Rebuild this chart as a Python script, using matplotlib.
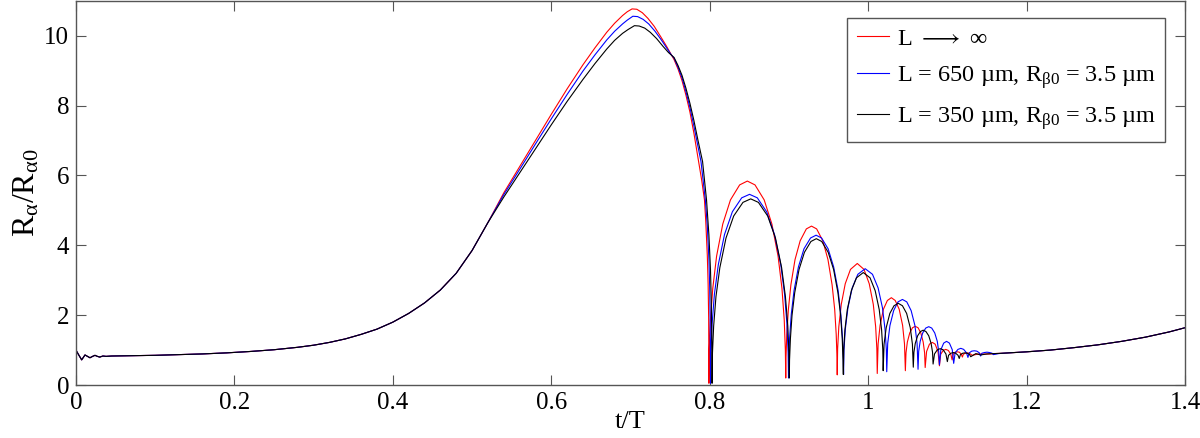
"""
Bubble radius ratio vs. normalised time for three channel lengths.
"""

import matplotlib
matplotlib.use("Agg")
import matplotlib.pyplot as plt

plt.rcParams.update({
    "font.family": ["Liberation Serif", "DejaVu Serif"],
    "mathtext.fontset": "stix",
    "mathtext.default": "regular",
    "font.size": 18,
})

# shared part (all three curves overlap), t/T and R/R0
t_rise = [0.000, 0.003, 0.0072, 0.0114, 0.0145, 0.0177, 0.021, 0.024, 0.027, 0.030,
          0.034, 0.038, 0.045, 0.060, 0.080, 0.100, 0.130, 0.160, 0.190, 0.220,
          0.250, 0.280, 0.300, 0.320, 0.340, 0.360, 0.380, 0.400, 0.420, 0.440,
          0.460, 0.480, 0.500, 0.520]
r_rise = [1.00, 0.88, 0.72, 0.86, 0.82, 0.78, 0.82, 0.85, 0.82, 0.80,
          0.83, 0.82, 0.83, 0.835, 0.84, 0.85, 0.87, 0.89, 0.92, 0.96,
          1.01, 1.08, 1.14, 1.22, 1.32, 1.45, 1.60, 1.80, 2.05, 2.35,
          2.72, 3.20, 3.85, 4.65]

t_tail = [1.17, 1.20, 1.23, 1.26, 1.29, 1.32, 1.35, 1.38, 1.40]
r_tail = [0.91, 0.95, 1.00, 1.07, 1.15, 1.25, 1.37, 1.52, 1.64]

# L -> infinity
t_red = [0.540, 0.560, 0.580, 0.600, 0.620, 0.640, 0.655, 0.670, 0.680, 0.690,
         0.696, 0.702, 0.708, 0.715, 0.722, 0.730, 0.738, 0.745, 0.750, 0.755,
         0.760, 0.765, 0.770, 0.775, 0.780, 0.786, 0.790, 0.7934, 0.795, 0.797,
         0.798, 0.7987, 0.799,
         0.7995, 0.8009, 0.8039, 0.8087, 0.8165, 0.8262, 0.8378, 0.8475, 0.8572,
         0.8688, 0.8785, 0.8863, 0.8912, 0.8941, 0.8955, 0.896,
         0.8963, 0.8973, 0.8993, 0.9025, 0.9077, 0.9142, 0.9220, 0.9285, 0.9350,
         0.9428, 0.9493, 0.9545, 0.9578, 0.9597, 0.9607, 0.961,
         0.9615, 0.9630, 0.9661, 0.9711, 0.9777, 0.9863, 0.9948, 1.0014, 1.0065,
         1.0095, 1.0110, 1.0115,
         1.0126, 1.0151, 1.0193, 1.0243, 1.0293, 1.0342, 1.0392, 1.0435, 1.0459, 1.047,
         1.0478, 1.0495, 1.0525, 1.0560, 1.0595, 1.0630, 1.0665, 1.0695, 1.0713, 1.072,
         1.0738, 1.0774, 1.0810, 1.0846, 1.0882, 1.090,
         1.0916, 1.0948, 1.0980, 1.1012, 1.1044, 1.106,
         1.1073, 1.1099, 1.1125, 1.1151, 1.1177, 1.119,
         1.1202, 1.1226, 1.1250, 1.1274, 1.1298, 1.131,
         1.140, 1.150, 1.160]
r_red = [5.50, 6.25, 7.00, 7.75, 8.48, 9.17, 9.65, 10.10, 10.36, 10.58,
         10.69, 10.77, 10.76, 10.66, 10.50, 10.27, 9.98, 9.72, 9.52, 9.32,
         9.05, 8.72, 8.30, 7.82, 7.22, 6.40, 5.85, 5.30, 4.70, 3.70,
         2.90, 1.90, 0.05,
         1.00, 1.86, 2.77, 3.69, 4.61, 5.30, 5.73, 5.84, 5.73,
         5.30, 4.61, 3.69, 2.77, 1.86, 1.00, 0.20,
         0.78, 1.45, 2.16, 2.87, 3.59, 4.13, 4.47, 4.55, 4.47,
         4.13, 3.59, 2.87, 2.16, 1.45, 0.78, 0.29,
         1.04, 1.67, 2.31, 2.90, 3.31, 3.48, 3.31, 2.90, 2.31,
         1.67, 1.04, 0.33,
         1.18, 1.71, 2.17, 2.42, 2.50, 2.42, 2.17, 1.71, 1.18, 0.41,
         0.92, 1.23, 1.49, 1.64, 1.68, 1.64, 1.49, 1.23, 0.92, 0.50,
         0.96, 1.17, 1.22, 1.17, 0.96, 0.55,
         0.88, 0.99, 1.02, 0.99, 0.88, 0.72,
         0.88, 0.94, 0.95, 0.94, 0.88, 0.80,
         0.88, 0.91, 0.92, 0.91, 0.88, 0.85,
         0.89, 0.885, 0.90]

# L = 650 um
t_blue = [0.540, 0.560, 0.580, 0.600, 0.620, 0.640, 0.655, 0.670, 0.680, 0.690,
          0.696, 0.703, 0.709, 0.716, 0.723, 0.731, 0.739, 0.746, 0.751, 0.755,
          0.760, 0.765, 0.770, 0.775, 0.780, 0.785, 0.789, 0.7945, 0.797, 0.799,
          0.800, 0.8006, 0.801,
          0.8015, 0.8030, 0.8059, 0.8109, 0.8187, 0.8286, 0.8404, 0.8503, 0.8601,
          0.8719, 0.8818, 0.8897, 0.8946, 0.8975, 0.8990, 0.8995,
          0.8998, 0.9009, 0.9030, 0.9065, 0.9120, 0.9190, 0.9273, 0.9343, 0.9412,
          0.9495, 0.9565, 0.9621, 0.9655, 0.9676, 0.9686, 0.969,
          0.9695, 0.9712, 0.9745, 0.9799, 0.9870, 0.9963, 1.0055, 1.0126, 1.0181,
          1.0213, 1.0230, 1.0235,
          1.0247, 1.0275, 1.0322, 1.0377, 1.0433, 1.0488, 1.0543, 1.0591, 1.0618, 1.063,
          1.0638, 1.0657, 1.0689, 1.0727, 1.0765, 1.0803, 1.0841, 1.0873, 1.0891, 1.090,
          1.0918, 1.0954, 1.0990, 1.1026, 1.1062, 1.108,
          1.1098, 1.1134, 1.1170, 1.1206, 1.1242, 1.126,
          1.1276, 1.1308, 1.1340, 1.1372, 1.1404, 1.142,
          1.1436, 1.1468, 1.1500, 1.1532, 1.1564, 1.158,
          1.165]
r_blue = [5.45, 6.17, 6.90, 7.62, 8.32, 8.99, 9.45, 9.88, 10.13, 10.34,
          10.45, 10.56, 10.55, 10.47, 10.34, 10.13, 9.88, 9.64, 9.47, 9.36,
          9.10, 8.80, 8.40, 7.95, 7.42, 6.85, 6.40, 5.30, 4.55, 3.60,
          2.80, 1.80, 0.05,
          0.94, 1.74, 2.59, 3.45, 4.31, 4.96, 5.36, 5.46, 5.36,
          4.96, 4.31, 3.45, 2.59, 1.74, 0.94, 0.20,
          0.74, 1.36, 2.03, 2.71, 3.38, 3.90, 4.21, 4.29, 4.21,
          3.90, 3.38, 2.71, 2.03, 1.36, 0.74, 0.30,
          1.01, 1.60, 2.21, 2.78, 3.17, 3.33, 3.17, 2.78, 2.21,
          1.60, 1.01, 0.38,
          1.19, 1.70, 2.13, 2.38, 2.45, 2.38, 2.13, 1.70, 1.19, 0.45,
          0.96, 1.25, 1.49, 1.63, 1.67, 1.63, 1.49, 1.25, 0.96, 0.58,
          1.01, 1.20, 1.25, 1.20, 1.01, 0.62,
          0.92, 1.02, 1.05, 1.02, 0.92, 0.79,
          0.92, 0.97, 0.98, 0.97, 0.92, 0.83,
          0.91, 0.93, 0.94, 0.93, 0.91, 0.87,
          0.90]

# L = 350 um
t_black = [0.540, 0.560, 0.580, 0.600, 0.620, 0.640, 0.655, 0.670, 0.680, 0.690,
           0.697, 0.705, 0.711, 0.718, 0.725, 0.733, 0.741, 0.748, 0.755, 0.760,
           0.765, 0.770, 0.775, 0.780, 0.785, 0.791, 0.796, 0.799, 0.801, 0.802,
           0.8026, 0.803,
           0.8035, 0.8050, 0.8079, 0.8128, 0.8206, 0.8303, 0.8420, 0.8518, 0.8615,
           0.8732, 0.8830, 0.8908, 0.8956, 0.8986, 0.9000, 0.9005,
           0.9008, 0.9019, 0.9039, 0.9073, 0.9128, 0.9196, 0.9278, 0.9346, 0.9414,
           0.9496, 0.9564, 0.9619, 0.9653, 0.9673, 0.9683, 0.9687,
           0.9692, 0.9707, 0.9737, 0.9788, 0.9853, 0.9939, 1.0024, 1.0089, 1.0140,
           1.0170, 1.0185, 1.019,
           1.0201, 1.0228, 1.0274, 1.0327, 1.0380, 1.0433, 1.0486, 1.0532, 1.0559, 1.057,
           1.0578, 1.0595, 1.0625, 1.0660, 1.0695, 1.0730, 1.0765, 1.0795, 1.0813, 1.082,
           1.0838, 1.0874, 1.0910, 1.0946, 1.0982, 1.100,
           1.1015, 1.1045, 1.1075, 1.1105, 1.1135, 1.115,
           1.1165, 1.1194, 1.1223, 1.1252, 1.1281, 1.1295,
           1.136, 1.142, 1.150, 1.160]
r_black = [5.38, 6.07, 6.76, 7.45, 8.12, 8.75, 9.20, 9.62, 9.87, 10.07,
           10.18, 10.29, 10.28, 10.22, 10.10, 9.92, 9.70, 9.52, 9.38, 9.15,
           8.87, 8.50, 8.07, 7.58, 7.03, 6.40, 5.30, 4.30, 3.30, 2.40,
           1.40, 0.05,
           0.92, 1.69, 2.53, 3.36, 4.21, 4.84, 5.23, 5.33, 5.23,
           4.84, 4.21, 3.36, 2.53, 1.69, 0.92, 0.20,
           0.72, 1.33, 1.99, 2.64, 3.31, 3.80, 4.11, 4.19, 4.11,
           3.80, 3.31, 2.64, 1.99, 1.33, 0.72, 0.30,
           1.02, 1.58, 2.16, 2.70, 3.07, 3.22, 3.07, 2.70, 2.16,
           1.58, 1.02, 0.41,
           1.17, 1.64, 2.05, 2.27, 2.34, 2.27, 2.05, 1.64, 1.17, 0.51,
           0.94, 1.19, 1.41, 1.53, 1.57, 1.53, 1.41, 1.19, 0.94, 0.60,
           0.89, 1.01, 1.04, 1.01, 0.89, 0.67,
           0.85, 0.91, 0.93, 0.91, 0.85, 0.76,
           0.87, 0.91, 0.92, 0.91, 0.87, 0.81,
           0.90, 0.86, 0.89, 0.90]

labels = [r"L $\longrightarrow$ $\infty$",
          r"L = 650 µm, R$_{\beta 0}$ = 3.5 µm",
          r"L = 350 µm, R$_{\beta 0}$ = 3.5 µm"]
colors = ["#ff0000", "#0000ff", "#000000"]

fig = plt.figure(figsize=(12, 4.38), dpi=100)
ax = fig.add_axes([0.0633, 0.121, 0.9242, 0.877])

for (t, r), lab, col in zip([(t_red, r_red), (t_blue, r_blue), (t_black, r_black)],
                            labels, colors):
    ax.plot(t_rise + t + t_tail, r_rise + r + r_tail, color=col, linewidth=0.8, label=lab)

ax.set_xlim(0, 1.4)
ax.set_ylim(0, 11)
ax.set_xticks([0, 0.2, 0.4, 0.6, 0.8, 1.0, 1.2, 1.4])
ax.set_xticklabels(["0", "0.2", "0.4", "0.6", "0.8", "1", "1.2", "1.4"])
ax.set_yticks([0, 2, 4, 6, 8, 10])
ax.tick_params(direction="in", length=7, width=0.8, top=True, right=True,
               color="#555555", labelsize=18, pad=5)
for s in ax.spines.values():
    s.set_color("#555555")
    s.set_linewidth(1.0)

ax.set_xlabel("t/T", fontsize=19, labelpad=-2)
ax.set_ylabel(r"R$_\alpha$/R$_{\alpha 0}$", fontsize=23, labelpad=2)

leg = ax.legend(loc="upper right", bbox_to_anchor=(0.982, 0.956), borderaxespad=0,
                fontsize=17.5, handlelength=1.35, handletextpad=0.3,
                labelspacing=0.6, fancybox=False, framealpha=1, borderpad=0.4)
leg.get_frame().set_edgecolor("#555555")
leg.get_frame().set_linewidth(1.0)

fig.savefig("out.png", dpi=100)
plt.close(fig)
